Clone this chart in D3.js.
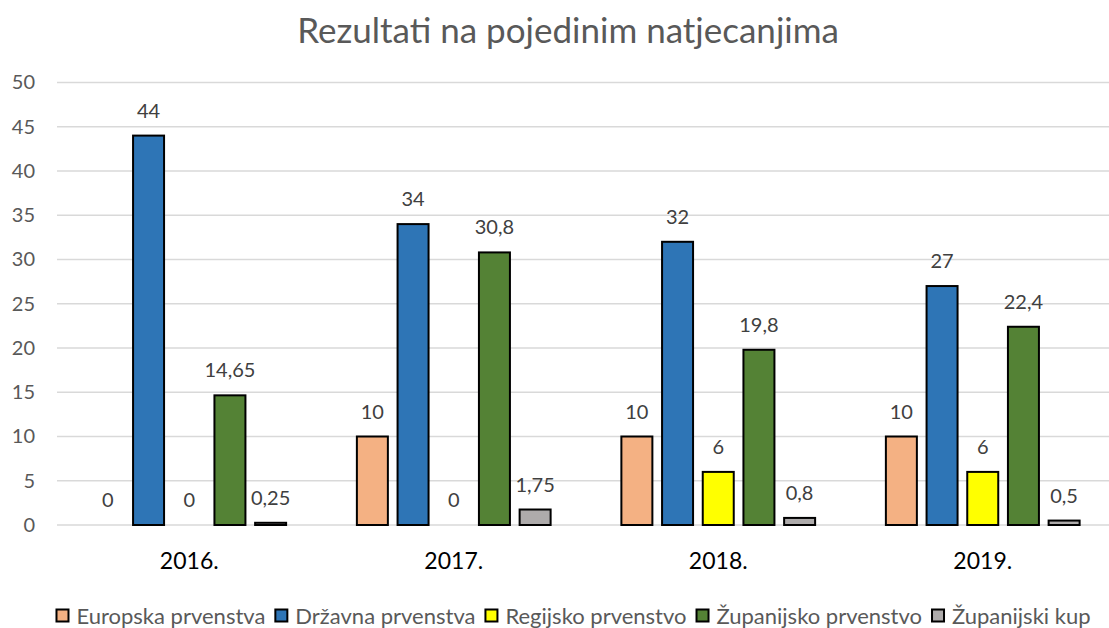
<!DOCTYPE html>
<html><head><meta charset="utf-8">
<script src="https://cdn.jsdelivr.net/npm/d3@7"></script>
<style>body{margin:0;background:#fff}svg{display:block}</style>
</head><body>
<svg id="c" width="1109" height="628"></svg>
<script>
const title = "Rezultati na pojedinim natjecanjima";
const categories = ["2016.", "2017.", "2018.", "2019."];
const seriesNames = ["Europska prvenstva", "Državna prvenstva", "Regijsko prvenstvo", "Županijsko prvenstvo", "Županijski kup"];
const europska = [0, 10, 10, 10];
const drzavna = [44, 34, 32, 27];
const regijsko = [0, 0, 6, 6];
const zupanijsko = [14.65, 30.8, 19.8, 22.4];
const zupKup = [0.25, 1.75, 0.8, 0.5];
const yTicks = [0, 5, 10, 15, 20, 25, 30, 35, 40, 45, 50];
const colors = ["#F4B183", "#2E75B6", "#FFFF00", "#548235", "#AEABAB"];

const seriesValues = [europska, drzavna, regijsko, zupanijsko, zupKup];
const fmt = v => String(v).replace(".", ",");
const FONT = "Lato, 'Open Sans', sans-serif";

const svg = d3.select("#c");
const x0 = d3.scaleBand().domain(categories).range([57, 1115]).padding(0);
const x1 = d3.scaleBand().domain(d3.range(seriesNames.length)).range([0, x0.bandwidth()])
  .paddingInner(0.189).paddingOuter(0.845);
const y = d3.scaleLinear().domain([0, 50]).range([525, 82.5]);

// gridlines
svg.append("g").selectAll("line").data(yTicks).join("line")
  .attr("x1", 57).attr("x2", 1115)
  .attr("y1", d => y(d)).attr("y2", d => y(d))
  .attr("stroke", "#D9D9D9").attr("stroke-width", 1.5);

// y axis labels
const yAxis = d3.axisLeft(y).tickValues(yTicks).tickSize(0).tickPadding(0).tickFormat(d => d);
const ya = svg.append("g").attr("transform", "translate(35,0)").call(yAxis);
ya.select(".domain").remove();
ya.selectAll("text").attr("font-family", FONT).attr("font-size", 20).attr("fill", "#595959");

// x axis labels
const xAxis = d3.axisBottom(x0).tickSize(0).tickPadding(0);
const xa = svg.append("g").attr("transform", "translate(0,553)").call(xAxis);
xa.select(".domain").remove();
xa.selectAll("text").attr("font-family", FONT).attr("font-size", 23).attr("fill", "#000").attr("dy", "0.71em");

// bars
const data = [];
categories.forEach((c, ci) => seriesValues.forEach((s, si) => data.push({c, si, v: s[ci]})));
svg.append("g").selectAll("rect").data(data.filter(d => d.v > 0)).join("rect")
  .attr("x", d => x0(d.c) + x1(d.si) + 1)
  .attr("width", x1.bandwidth() - 2)
  .attr("y", d => y(d.v))
  .attr("height", d => y(0) - y(d.v))
  .attr("fill", d => colors[d.si])
  .attr("stroke", "#000").attr("stroke-width", 2);

// data labels
svg.append("g").selectAll("text").data(data).join("text")
  .attr("x", d => x0(d.c) + x1(d.si) + x1.bandwidth() / 2)
  .attr("y", d => y(d.v) - 25)
  .attr("dy", "0.35em")
  .attr("text-anchor", "middle")
  .attr("font-family", FONT).attr("font-size", 20).attr("fill", "#404040")
  .text(d => fmt(d.v));

// title
svg.append("text").attr("x", 568).attr("y", 43).attr("text-anchor", "middle")
  .attr("font-family", FONT).attr("font-weight", 400).attr("font-size", 35).attr("fill", "#595959")
  .text(title);

// legend
const lg = svg.append("g");
const items = lg.selectAll("g").data(seriesNames).join("g");
items.append("rect").attr("x", 1).attr("y", -6.5).attr("width", 12).attr("height", 12)
  .attr("fill", (d, i) => colors[i]).attr("stroke", "#000").attr("stroke-width", 2);
items.append("text").attr("x", 21).attr("dy", "0.35em")
  .attr("font-family", FONT).attr("font-size", 22).attr("fill", "#595959").text(d => d);
let xs = 0; const pos = [];
items.each(function () {
  pos.push(xs);
  xs += 21 + d3.select(this).select("text").node().getComputedTextLength() + 9;
});
const total = xs - 9;
const startX = 573 - total / 2;
items.attr("transform", (d, i) => `translate(${startX + pos[i]},616)`);
</script>
</body></html>
